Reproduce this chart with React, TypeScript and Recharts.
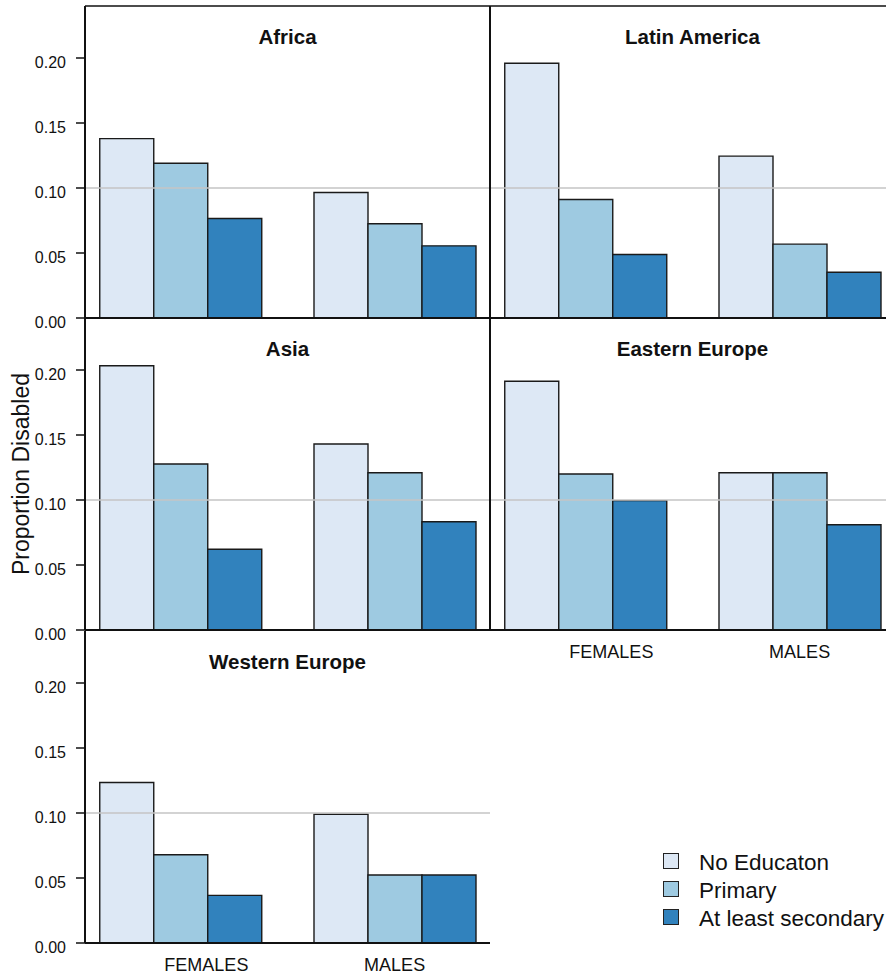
import { BarChart, Bar, XAxis, YAxis, ReferenceLine } from "recharts"

const regions = ["Africa", "Latin America", "Asia", "Eastern Europe", "Western Europe"]
const sexes = ["FEMALES", "MALES"]
const levels = ["No Educaton", "Primary", "At least secondary"]

// proportion disabled per region, [females, males]
const noEducation = [
  [0.138, 0.0965],
  [0.196, 0.1245],
  [0.2033, 0.1431],
  [0.1913, 0.121],
  [0.1235, 0.099],
]
const primary = [
  [0.119, 0.0725],
  [0.0912, 0.0568],
  [0.1277, 0.121],
  [0.12, 0.121],
  [0.0679, 0.0523],
]
const secondary = [
  [0.0765, 0.0555],
  [0.0488, 0.0352],
  [0.0621, 0.0833],
  [0.0995, 0.081],
  [0.0366, 0.0523],
]
const yTicks = [0, 0.05, 0.1, 0.15, 0.2]
const Y_MAX = 0.24

const series = [
  { key: "none", fill: "#dde8f5" },
  { key: "primary", fill: "#9ecae1" },
  { key: "secondary", fill: "#3182bd" },
]

const FONT = "'Liberation Sans', Arial, sans-serif"
const INK = "#111"
const ROW_TOP = [6, 318, 631]
const PLOT_W = 405
const PLOT_H = 312
const AXIS_W = 85
const TOP_GAP = 4
const XPAD = { left: -11.75, right: -11.75 }

// facet placement in the 2-column grid
const panels = [
  { row: 0, col: 0, labels: false },
  { row: 0, col: 1, labels: false },
  { row: 1, col: 0, labels: false },
  { row: 1, col: 1, labels: true },
  { row: 2, col: 0, labels: true },
]

function YTick(props: any) {
  const { x, y, payload } = props
  return (
    <text x={x} y={y} dy={10} textAnchor="end" fontSize={16} fontFamily={FONT} fill={INK}>
      {Number(payload.value).toFixed(2)}
    </text>
  )
}

function SexTick(props: any) {
  const { x, y, payload, index } = props
  const shift = index === 0 ? 26 : 0
  return (
    <text x={x + shift} y={y} dy={28} textAnchor="middle" fontSize={18} fontFamily={FONT} fill={INK}>
      {payload.value}
    </text>
  )
}

function Panel({ index }: { index: number }) {
  const { row, col, labels } = panels[index]
  const data = sexes.map((sex, i) => ({
    sex,
    none: noEducation[index][i],
    primary: primary[index][i],
    secondary: secondary[index][i],
  }))
  const left = col === 0 ? 0 : PLOT_W
  const top = ROW_TOP[row]

  return (
    <>
      <div style={{ position: "absolute", left, top: top - TOP_GAP }}>
        <BarChart
          width={AXIS_W + PLOT_W}
          height={TOP_GAP + PLOT_H + 40}
          data={data}
          margin={{ top: TOP_GAP, right: 0, bottom: 0, left: 0 }}
          barCategoryGap={26.5}
          barGap={0}
        >
          <XAxis
            dataKey="sex"
            height={40}
            tickLine={false}
            tickSize={0}
            tickMargin={0}
            padding={XPAD}
            axisLine={{ stroke: INK, strokeWidth: 2 }}
            tick={labels ? SexTick : false}
          />
          <YAxis
            yAxisId="l"
            domain={[0, Y_MAX]}
            ticks={yTicks}
            width={AXIS_W}
            tickSize={9}
            tickMargin={10}
            tick={col === 0 ? YTick : false}
            tickLine={col === 0 ? { stroke: INK, strokeWidth: 1.5 } : false}
            axisLine={{ stroke: INK, strokeWidth: 2 }}
          />
          {col === 0 && (
            <YAxis
              yAxisId="r"
              orientation="right"
              domain={[0, Y_MAX]}
              width={0}
              tick={false}
              tickLine={false}
              axisLine={{ stroke: INK, strokeWidth: 2 }}
            />
          )}
          {series.map((s) => (
            <Bar
              key={s.key}
              yAxisId="l"
              dataKey={s.key}
              fill={s.fill}
              stroke="#1a1a1a"
              strokeWidth={1.4}
              isAnimationActive={false}
            />
          ))}
          <ReferenceLine yAxisId="l" y={0.1} stroke="#c4c4c4" strokeWidth={1.5} />
          {/* frame edge along the top of the first row */}
          {row === 0 && <ReferenceLine yAxisId="l" y={Y_MAX} stroke={INK} strokeWidth={1.5} />}
        </BarChart>
      </div>
      <div
        style={{
          position: "absolute",
          left: AXIS_W + left,
          top: top + 21,
          width: PLOT_W,
          textAlign: "center",
          fontFamily: FONT,
          fontWeight: "bold",
          fontSize: 20.5,
          lineHeight: "20px",
          color: INK,
        }}
      >
        {regions[index]}
      </div>
    </>
  )
}

export default function App() {
  return (
    <div
      style={{
        position: "absolute",
        left: 0,
        top: 0,
        width: 886,
        height: 978,
        overflow: "hidden",
        background: "#fff",
        fontFamily: FONT,
      }}
    >
      {panels.map((_, i) => (
        <Panel key={regions[i]} index={i} />
      ))}
      <div
        style={{
          position: "absolute",
          left: 21 - 150,
          top: 474 - 12,
          width: 300,
          height: 24,
          lineHeight: "24px",
          fontSize: 23,
          textAlign: "center",
          transform: "rotate(-90deg)",
          color: INK,
          whiteSpace: "nowrap",
        }}
      >
        Proportion Disabled
      </div>
      {levels.map((name, i) => (
        <div
          key={name}
          style={{
            position: "absolute",
            left: 663,
            top: 853 + i * 28,
            height: 16,
            display: "flex",
            alignItems: "center",
            whiteSpace: "nowrap",
          }}
        >
          <div
            style={{
              width: 16,
              height: 16,
              boxSizing: "border-box",
              border: "1.5px solid #222",
              background: series[i].fill,
            }}
          />
          <span style={{ marginLeft: 20, fontSize: 22.5, lineHeight: "16px", position: "relative", top: 2, color: INK }}>
            {name}
          </span>
        </div>
      ))}
    </div>
  )
}
